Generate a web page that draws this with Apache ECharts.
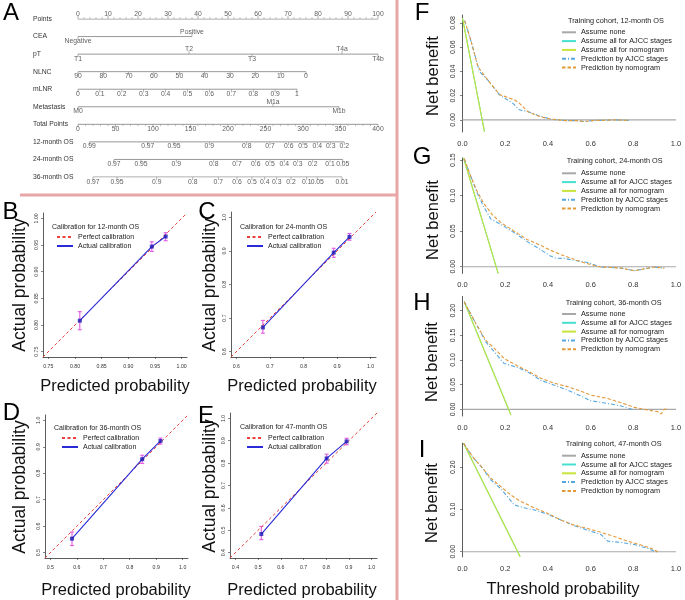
<!DOCTYPE html>
<html><head><meta charset="utf-8">
<script src="https://cdn.jsdelivr.net/npm/echarts@6/dist/echarts.min.js"></script>
<style>html,body{margin:0;padding:0;background:#fff}#c{width:685px;height:600px}</style>
</head><body><div id="c"></div>
<script>
// ---------------- Nomogram (A) ----------------
const rowNames = ['Points','CEA','pT','NLNC','mLNR','Metastasis','Total Points','12-month OS','24-month OS','36-month OS'];
const pointsTicks = [0,10,20,30,40,50,60,70,80,90,100];
const ceaLabels = ['Negative','Positive'];
const ceaPoints = [0, 38];
const ptLabels = ['T1','T2','T3','T4a','T4b'];
const ptPoints = [0, 37, 58, 88, 100];
const nlncLabels = ['90','80','70','60','50','40','30','20','10','0'];
const nlncPoints = [0, 8.4, 16.9, 25.3, 33.8, 42.2, 50.7, 59.1, 67.6, 76];
const mlnrLabels = ['0','0.1','0.2','0.3','0.4','0.5','0.6','0.7','0.8','0.9','1'];
const mlnrPoints = [0, 7.3, 14.6, 21.9, 29.2, 36.5, 43.8, 51.1, 58.4, 65.7, 73];
const metLabels = ['M0','M1a','M1b'];
const metPoints = [0, 65, 87];
const totalTicks = [0,50,100,150,200,250,300,350,400];
const os12Labels = ['0.99','0.97','0.95','0.9','0.8','0.7','0.6','0.5','0.4','0.3','0.2'];
const os12Total = [15, 93, 128, 175, 225, 256, 281, 300, 319, 337, 355];
const os24Labels = ['0.97','0.95','0.9','0.8','0.7','0.6','0.5','0.4','0.3','0.2','0.1','0.05'];
const os24Total = [48, 84, 131, 181, 212, 237, 256, 275, 293, 313, 336, 353];
const os36Labels = ['0.97','0.95','0.9','0.8','0.7','0.6','0.5','0.4','0.3','0.2','0.1','0.05','0.01'];
const os36Total = [20, 52, 105, 153, 187, 212, 232, 249, 265, 284, 305, 319, 352];

// ---------------- Calibration (B-E) ----------------
const cal12Pred = [0.809, 0.944, 0.970];
const cal12Obs  = [0.808, 0.947, 0.966];
const cal12Lo   = [0.791, 0.938, 0.958];
const cal12Hi   = [0.825, 0.956, 0.973];
const cal24Pred = [0.679, 0.890, 0.937];
const cal24Obs  = [0.672, 0.895, 0.942];
const cal24Lo   = [0.655, 0.881, 0.932];
const cal24Hi   = [0.693, 0.908, 0.952];
const cal36Pred = [0.582, 0.847, 0.916];
const cal36Obs  = [0.553, 0.853, 0.922];
const cal36Lo   = [0.527, 0.837, 0.910];
const cal36Hi   = [0.578, 0.868, 0.933];
const cal47Pred = [0.514, 0.802, 0.890];
const cal47Obs  = [0.483, 0.821, 0.897];
const cal47Lo   = [0.458, 0.800, 0.882];
const cal47Hi   = [0.517, 0.840, 0.911];
const calTicks12 = [0.75,0.80,0.85,0.90,0.95,1.00];
const calTicks24 = [0.6,0.7,0.8,0.9,1.0];
const calTicks36 = [0.5,0.6,0.7,0.8,0.9,1.0];
const calTicks47 = [0.4,0.5,0.6,0.7,0.8,0.9,1.0];

// ---------------- Decision curves (F-I) ----------------
const dcaXTicks = [0,0.2,0.4,0.6,0.8,1.0];
const thrNomoF = [0.01,0.04,0.072,0.118,0.173,0.204,0.243,0.266,0.305,0.36,0.414,0.484,0.53,0.57,0.61,0.72,0.78];
const nomoF    = [0.082,0.065,0.044,0.033,0.021,0.019,0.0166,0.0138,0.0069,0.0028,0.0006,-0.0006,-0.0006,-0.0014,-0.0006,0,-0.0005];
const thrAjccF = [0.01,0.04,0.079,0.118,0.173,0.235,0.266,0.305,0.36,0.414,0.484,0.53,0.57,0.61,0.72,0.78];
const ajccF    = [0.082,0.065,0.040,0.033,0.0207,0.0138,0.0083,0.0069,0.0033,0.0006,-0.0006,-0.0006,-0.0014,-0.0006,0,-0.0005];
const thrAllF  = [0.0, 0.103];
const allF     = [0.084, -0.0097];
const yTicksF  = [0,0.02,0.04,0.06,0.08];

const thrNomoG = [0.008,0.039,0.07,0.10,0.14,0.18,0.242,0.305,0.367,0.414,0.461,0.508,0.555,0.60,0.648,0.695,0.742,0.805,0.852,0.898,0.945];
const nomoG    = [0.152,0.127,0.105,0.089,0.073,0.062,0.050,0.038,0.030,0.023,0.017,0.012,0.007,0.003,-0.0005,-0.001,-0.002,-0.0056,-0.003,-0.0005,-0.002];
const thrAjccG = [0.008,0.039,0.07,0.10,0.133,0.18,0.242,0.305,0.367,0.406,0.437,0.477,0.523,0.586,0.648,0.695,0.742,0.805,0.852,0.898,0.945];
const ajccG    = [0.152,0.127,0.103,0.084,0.067,0.0595,0.048,0.035,0.024,0.016,0.012,0.0117,0.009,0.006,-0.0005,-0.001,-0.002,-0.0056,-0.003,-0.0005,-0.002];
const thrAllG  = [0.005, 0.167];
const allG     = [0.153, -0.0094];
const yTicksG  = [0,0.05,0.10,0.15];

const thrNomoH = [0.008,0.0625,0.109,0.148,0.195,0.258,0.305,0.367,0.43,0.492,0.555,0.60,0.68,0.742,0.805,0.867,0.914,0.93,0.945,0.96];
const nomoH    = [0.218,0.174,0.14,0.124,0.103,0.088,0.078,0.063,0.053,0.046,0.037,0.029,0.022,0.0135,0.004,-0.0014,-0.0047,-0.0095,0.0,0.0007];
const thrAjccH = [0.008,0.0625,0.109,0.148,0.195,0.258,0.305,0.367,0.43,0.492,0.555,0.60,0.68,0.742,0.789,0.805];
const ajccH    = [0.218,0.174,0.137,0.117,0.093,0.085,0.076,0.059,0.049,0.039,0.027,0.0176,0.012,0.0068,0.0007,-0.0014];
const thrAllH  = [0.008, 0.227];
const allH     = [0.218, -0.0115];
const yTicksH  = [0,0.05,0.10,0.15,0.20];

const thrNomoI = [0.005,0.047,0.094,0.133,0.18,0.227,0.273,0.336,0.398,0.461,0.523,0.586,0.648,0.711,0.773,0.836,0.883,0.922];
const nomoI    = [0.257,0.225,0.198,0.174,0.154,0.134,0.119,0.104,0.091,0.075,0.063,0.055,0.046,0.036,0.025,0.016,0.008,-0.0016];
const thrAjccI = [0.005,0.047,0.094,0.133,0.18,0.242,0.289,0.336,0.398,0.461,0.523,0.586,0.648,0.68,0.742,0.805,0.867,0.914];
const ajccI    = [0.257,0.225,0.198,0.17,0.149,0.111,0.104,0.099,0.089,0.075,0.062,0.051,0.041,0.025,0.022,0.017,0.008,-0.0016];
const thrAllI  = [0.005, 0.27];
const allI     = [0.257, -0.012];
const yTicksI  = [0,0.10,0.20];

const dcaNames = ['Assume none','Assume all for AJCC stages','Assume all for nomogram','Prediction by AJCC stages','Prediction by nomogram'];

// ================= build =================
const FONT = '"Liberation Sans", Arial, Helvetica, sans-serif';
const zip = (xs, ys) => xs.map((x, i) => [x, ys[i]]);
const chart = echarts.init(document.getElementById('c'), null, {renderer: 'canvas', width: 685, height: 600});

const grids = [
  {left: 78, top: 19, width: 300, height: 158},
  {left: 43, top: 213, width: 144, height: 144},
  {left: 231, top: 212, width: 145, height: 145},
  {left: 45, top: 415, width: 143, height: 143},
  {left: 230, top: 413, width: 147, height: 145},
  {left: 462.5, top: 15, width: 213.5, height: 117},
  {left: 462.5, top: 158, width: 213.5, height: 115.4},
  {left: 462.5, top: 296.4, width: 213.5, height: 119.6},
  {left: 462.5, top: 443.2, width: 213.5, height: 113.6}
].map(g => Object.assign({containLabel: false}, g));

const xAxes = [
  {type: 'value', gridIndex: 0, min: 0, max: 100, show: false},
  {type: 'value', gridIndex: 0, min: 0, max: 400, show: false}
];
const yAxes = [
  {type: 'value', gridIndex: 0, min: 0, max: 9, interval: 1, inverse: true,
   axisLine: {show: false}, axisTick: {show: false}, splitLine: {show: false},
   axisLabel: {formatter: v => rowNames[v] || '', align: 'left', margin: 45, fontSize: 6.8, color: '#333', fontFamily: FONT}}
];
const series = [];
const legends = [];
const graphics = [];

// nomogram rows
function nomoRow(row, positions, labels, mode, xIdx) {
  series.push({type: 'line', xAxisIndex: xIdx, yAxisIndex: 0, silent: true, symbol: 'none',
    data: [[positions[0], row], [positions[positions.length - 1], row]],
    lineStyle: {color: '#8c8c8c', width: 0.9}});
  series.push({type: 'scatter', xAxisIndex: xIdx, yAxisIndex: 0, silent: true,
    symbol: 'rect', symbolSize: [0.7, 3], itemStyle: {color: '#777'},
    data: positions.map((p, i) => {
      const up = mode === 'top' || (mode === 'alt' && i % 2 === 1);
      return {value: [p, row], name: String(labels[i]), symbolOffset: [0, up ? -1.5 : 1.5],
        label: {offset: [0, up ? -3.2 : 3.2]}};
    }),
    label: {show: true, position: 'inside', formatter: p => p.name, fontSize: 6.8, color: '#333', fontFamily: FONT}});
}
function minorTicks(row, values, xIdx, up) {
  series.push({type: 'scatter', xAxisIndex: xIdx, yAxisIndex: 0, silent: true,
    symbol: 'rect', symbolSize: [0.6, 2], symbolOffset: [0, up ? -1 : 1], itemStyle: {color: '#888'},
    data: values.map(v => [v, row])});
}
nomoRow(0, pointsTicks, pointsTicks, 'top', 0);
const ptsMinor = []; for (let v = 0; v <= 100; v += 2) if (v % 10) ptsMinor.push(v);
minorTicks(0, ptsMinor, 0, true);
nomoRow(1, ceaPoints, ceaLabels, 'alt', 0);
nomoRow(2, ptPoints, ptLabels, 'alt', 0);
nomoRow(3, nlncPoints, nlncLabels, 'bottom', 0);
nomoRow(4, mlnrPoints, mlnrLabels, 'bottom', 0);
nomoRow(5, metPoints, metLabels, 'alt', 0);
nomoRow(6, totalTicks, totalTicks, 'bottom', 1);
const totMinor = []; for (let v = 0; v <= 400; v += 10) if (v % 50) totMinor.push(v);
minorTicks(6, totMinor, 1, false);
nomoRow(7, os12Total, os12Labels, 'bottom', 1);
nomoRow(8, os24Total, os24Labels, 'bottom', 1);
nomoRow(9, os36Total, os36Labels, 'bottom', 1);

// calibration panels
const calPanels = [
  {g: 1, lo: 0.74, hi: 1.01, ticks: calTicks12, dec: 2, pred: cal12Pred, obs: cal12Obs, elo: cal12Lo, ehi: cal12Hi, title: 'Calibration for 12-month OS', tx: 52, ty: 227, lx: 56, ly: 232.5},
  {g: 2, lo: 0.584, hi: 1.016, ticks: calTicks24, dec: 1, pred: cal24Pred, obs: cal24Obs, elo: cal24Lo, ehi: cal24Hi, title: 'Calibration for 24-month OS', tx: 240, ty: 227, lx: 246, ly: 232.5},
  {g: 3, lo: 0.48, hi: 1.02, ticks: calTicks36, dec: 1, pred: cal36Pred, obs: cal36Obs, elo: cal36Lo, ehi: cal36Hi, title: 'Calibration for 36-month OS', tx: 54, ty: 428, lx: 61, ly: 433.5},
  {g: 4, lo: 0.376, hi: 1.024, ticks: calTicks47, dec: 1, pred: cal47Pred, obs: cal47Obs, elo: cal47Lo, ehi: cal47Hi, title: 'Calibration for 47-month OS', tx: 240, ty: 427, lx: 246, ly: 433.5}
];
calPanels.forEach(p => {
  const ax = {type: 'value', gridIndex: p.g, min: p.lo, max: p.hi,
    axisLine: {show: true, onZero: false, lineStyle: {color: '#333', width: 0.8}},
    axisTick: {show: true, length: 2, customValues: p.ticks, lineStyle: {color: '#333', width: 0.6}},
    axisLabel: {customValues: p.ticks, formatter: v => v.toFixed(p.dec), fontSize: 5.2, color: '#333', fontFamily: FONT, margin: 7.5},
    splitLine: {show: false}};
  const xi = xAxes.length, yi = yAxes.length;
  xAxes.push(Object.assign({}, ax));
  yAxes.push(Object.assign({}, ax, {axisLabel: Object.assign({}, ax.axisLabel, {rotate: 90, margin: 4})}));
  series.push({type: 'line', name: 'Perfect calibration', xAxisIndex: xi, yAxisIndex: yi, silent: true, symbol: 'none',
    data: [[p.lo, p.lo], [p.hi, p.hi]], color: '#e8413c', lineStyle: {color: '#e8413c', width: 1, type: [3, 2.5]}});
  series.push({type: 'line', name: 'Actual calibration', xAxisIndex: xi, yAxisIndex: yi, silent: true, symbol: 'none',
    data: zip(p.pred, p.obs), color: '#2a2ad6', lineStyle: {color: '#2a2ad6', width: 1.1}});
  series.push({type: 'custom', xAxisIndex: xi, yAxisIndex: yi, silent: true,
    data: p.pred.map((x, i) => [x, p.elo[i], p.ehi[i]]),
    renderItem: (params, api) => {
      const a = api.coord([api.value(0), api.value(1)]);
      const b = api.coord([api.value(0), api.value(2)]);
      const st = {stroke: '#e25ae2', lineWidth: 1.1};
      return {type: 'group', children: [
        {type: 'line', shape: {x1: a[0], y1: a[1], x2: b[0], y2: b[1]}, style: st},
        {type: 'line', shape: {x1: a[0] - 2, y1: a[1], x2: a[0] + 2, y2: a[1]}, style: st},
        {type: 'line', shape: {x1: b[0] - 2, y1: b[1], x2: b[0] + 2, y2: b[1]}, style: st}
      ]};
    }});
  series.push({type: 'scatter', xAxisIndex: xi, yAxisIndex: yi, silent: true, symbol: 'rect', symbolSize: 4,
    itemStyle: {color: '#1c1cb5'}, data: zip(p.pred, p.obs), z: 5});
  legends.push({left: p.lx, top: p.ly, orient: 'vertical', padding: 0, itemGap: 0, itemWidth: 16, itemHeight: 7,
    selectedMode: false, data: ['Perfect calibration', 'Actual calibration'],
    itemStyle: {opacity: 0},
    textStyle: {fontSize: 7, lineHeight: 9, color: '#222', fontFamily: FONT}});
  graphics.push({type: 'text', x: p.tx, y: p.ty, style: {text: p.title, font: '7px ' + FONT, fill: '#222', align: 'left', verticalAlign: 'middle'}});
});

// DCA panels
const dcaPanels = [
  {g: 5, lo: -0.01, hi: 0.0866, yt: yTicksF, tn: thrNomoF, n: nomoF, ta: thrAjccF, a: ajccF, tall: thrAllF, all: allF, title: 'Training cohort, 12-month OS', tx: 568, ty: 20.7, ly: 27.9},
  {g: 6, lo: -0.0094, hi: 0.153, yt: yTicksG, tn: thrNomoG, n: nomoG, ta: thrAjccG, a: ajccG, tall: thrAllG, all: allG, title: 'Training cohort, 24-month OS', tx: 566.7, ty: 161, ly: 168.9},
  {g: 7, lo: -0.0135, hi: 0.229, yt: yTicksH, tn: thrNomoH, n: nomoH, ta: thrAjccH, a: ajccH, tall: thrAllH, all: allH, title: 'Training cohort, 36-month OS', tx: 565.7, ty: 302.7, ly: 309.6},
  {g: 8, lo: -0.012, hi: 0.257, yt: yTicksI, tn: thrNomoI, n: nomoI, ta: thrAjccI, a: ajccI, tall: thrAllI, all: allI, title: 'Training cohort, 47-month OS', tx: 565.7, ty: 444.3, ly: 451.3}
];
const dcaColors = ['#a8a8a8', '#45e0cf', '#c9e33c', '#55a7e0', '#e39a3b'];
const dcaTypes = ['solid', 'solid', 'solid', [4, 2, 1, 2], [3.5, 2]];
dcaPanels.forEach(p => {
  const xi = xAxes.length, yi = yAxes.length;
  xAxes.push({type: 'value', gridIndex: p.g, min: 0, max: 1,
    axisLine: {show: false}, axisTick: {show: false}, splitLine: {show: false},
    axisLabel: {customValues: dcaXTicks, formatter: v => v.toFixed(1), fontSize: 7.5, color: '#333', fontFamily: FONT, margin: 8}});
  yAxes.push({type: 'value', gridIndex: p.g, min: p.lo, max: p.hi,
    axisLine: {show: true, onZero: false, lineStyle: {color: '#333', width: 0.8}},
    axisTick: {show: true, length: 2.5, customValues: p.yt, lineStyle: {color: '#333', width: 0.6}},
    axisLabel: {customValues: p.yt, formatter: v => v.toFixed(2), rotate: 90, fontSize: 7, color: '#333', fontFamily: FONT, margin: 6},
    splitLine: {show: false}});
  const datas = [[[0, 0], [1, 0]], zip(p.tall, p.all), zip(p.tall, p.all), zip(p.ta, p.a), zip(p.tn, p.n)];
  dcaNames.forEach((nm, k) => {
    series.push({type: 'line', name: nm, xAxisIndex: xi, yAxisIndex: yi, silent: true, symbol: 'none', clip: true,
      data: datas[k], color: dcaColors[k], lineStyle: {color: dcaColors[k], width: 1.1, type: dcaTypes[k]}, z: 2 + k});
  });
  legends.push({left: 561, top: p.ly, orient: 'vertical', padding: 0, itemGap: 0, itemWidth: 14, itemHeight: 7,
    selectedMode: false, data: dcaNames, itemStyle: {opacity: 0},
    textStyle: {fontSize: 7.3, lineHeight: 8.8, color: '#222', fontFamily: FONT}});
  graphics.push({type: 'text', x: p.tx, y: p.ty, style: {text: p.title, font: '7.3px ' + FONT, fill: '#222', align: 'left', verticalAlign: 'middle'}});
});

// decorations: separators, panel letters, axis titles
graphics.push({type: 'line', shape: {x1: 20, y1: 195, x2: 397, y2: 195}, style: {stroke: '#e9a6a6', lineWidth: 3}});
graphics.push({type: 'line', shape: {x1: 397, y1: 0, x2: 397, y2: 600}, style: {stroke: '#e9a6a6', lineWidth: 3}});
const letters = [['A', 11, 13], ['B', 10.5, 212], ['C', 207, 212], ['D', 11.5, 413], ['E', 206, 416], ['F', 422, 13], ['G', 422, 157], ['H', 422, 303], ['I', 422, 450]];
letters.forEach(([t, x, y]) => graphics.push({type: 'text', x, y, style: {text: t, font: '24px ' + FONT, fill: '#000', align: 'center', verticalAlign: 'middle'}}));
const vTitles = [['Actual probability', 20, 285, 17.5], ['Actual probability', 210, 285, 17.5], ['Actual probability', 20, 487, 17.5], ['Actual probability', 210, 486, 17.5],
  ['Net benefit', 433, 76, 16.5], ['Net benefit', 433, 220, 16.5], ['Net benefit', 432, 362, 16.5], ['Net benefit', 432, 503, 16.5]];
vTitles.forEach(([t, x, y, s]) => graphics.push({type: 'text', x, y, rotation: Math.PI / 2, style: {text: t, font: s + 'px ' + FONT, fill: '#111', align: 'center', verticalAlign: 'middle'}}));
const hTitles = [['Predicted probability', 115, 386], ['Predicted probability', 302, 386], ['Predicted probability', 116, 590], ['Predicted probability', 302, 590], ['Threshold probability', 563, 589]];
hTitles.forEach(([t, x, y]) => graphics.push({type: 'text', x, y, style: {text: t, font: '16.5px ' + FONT, fill: '#111', align: 'center', verticalAlign: 'middle'}}));

chart.setOption({
  animation: false,
  backgroundColor: '#fff',
  textStyle: {fontFamily: FONT},
  grid: grids,
  xAxis: xAxes,
  yAxis: yAxes,
  legend: legends,
  series: series,
  graphic: graphics
});
</script></body></html>
